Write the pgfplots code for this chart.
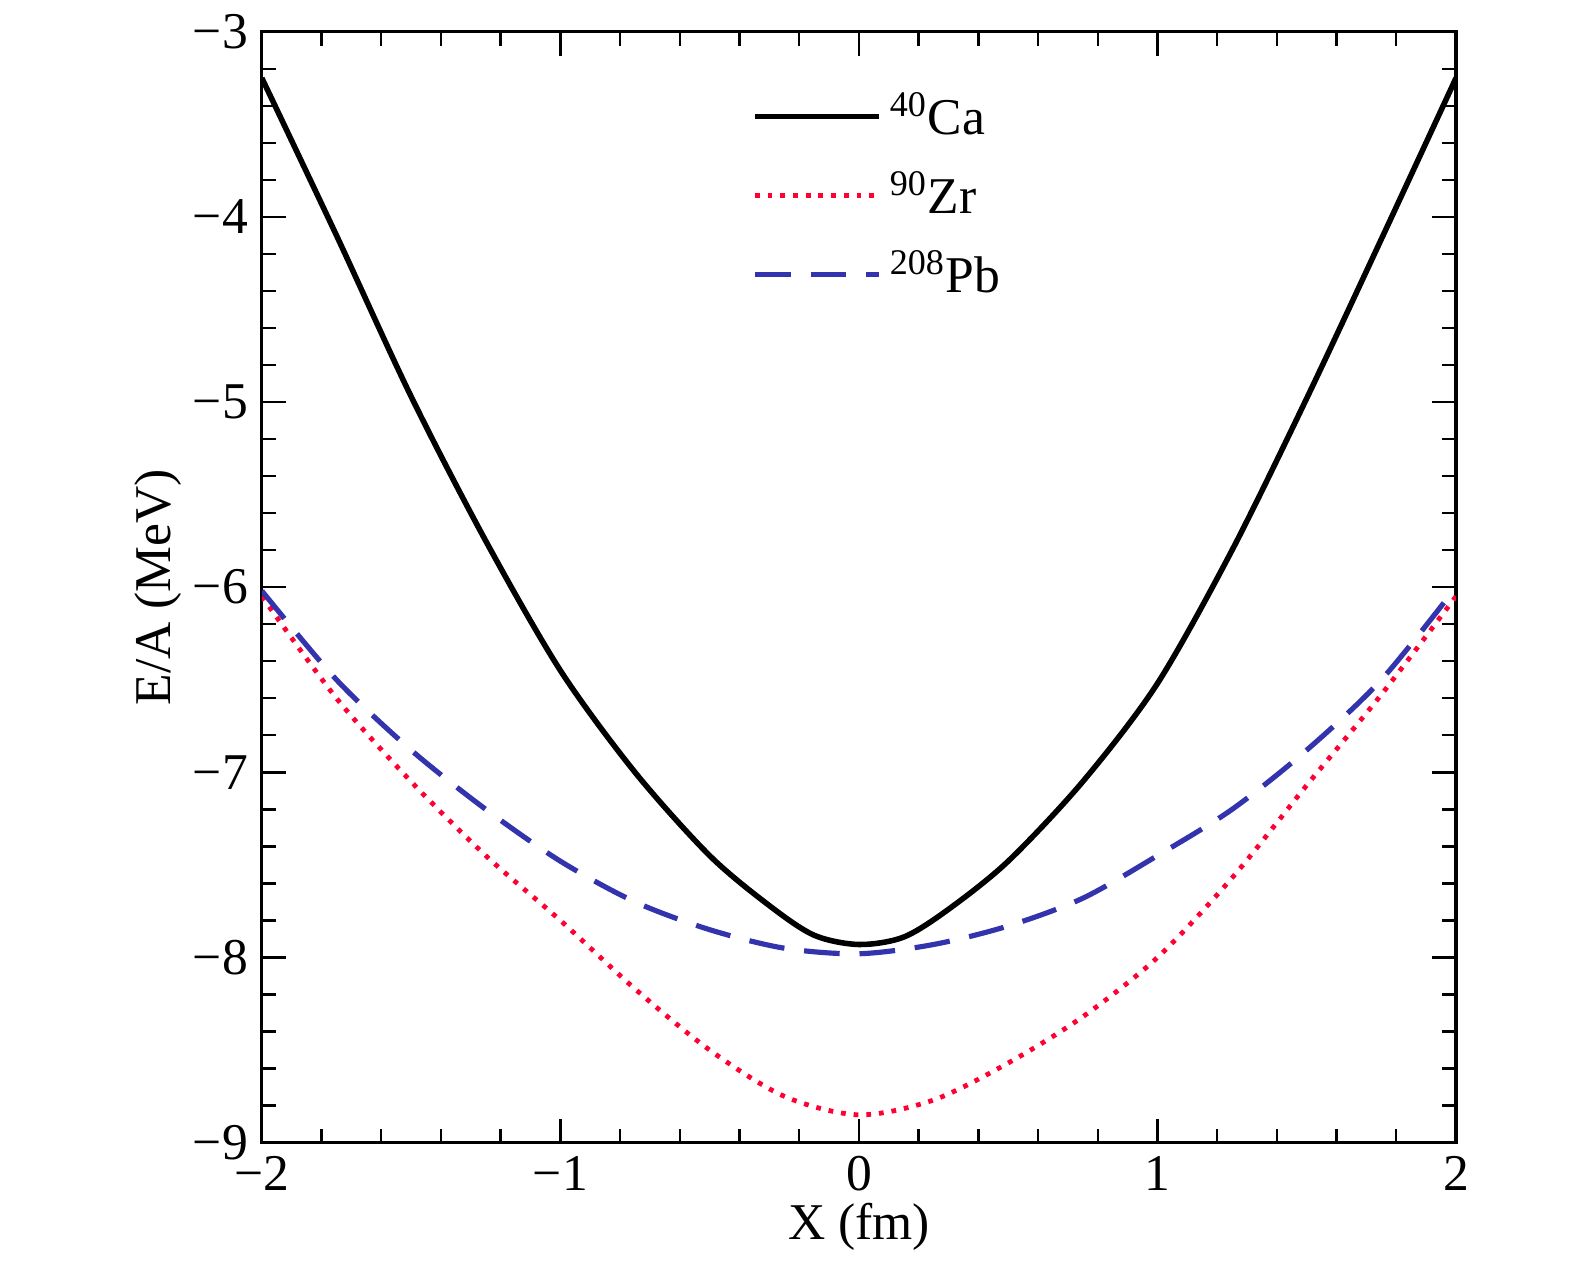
\documentclass[border=0pt]{standalone}
\usepackage{pgfplots}
\pgfplotsset{compat=1.18}
\usepackage{fontspec}
\setmainfont{Liberation Serif}
\begin{document}
\begin{tikzpicture}
\begin{axis}[
  scale only axis, width=301pt, height=280pt,
  xmin=-2, xmax=2, ymin=-9, ymax=-3,
  xtick={-2,-1,0,1,2}, ytick={-9,-8,-7,-6,-5,-4,-3},
  xticklabels={−2,−1,0,1,2}, yticklabels={−9,−8,−7,−6,−5,−4,−3},
  minor x tick num=4, minor y tick num=4,
  tick align=inside, xtick pos=both, ytick pos=both,
  major tick length=6pt, minor tick length=3.5pt,
  tick style={black, line width=0.6pt},
  axis line style={line width=0.8pt},
  ticklabel style={font=\fontsize{13}{15}\selectfont},
  label style={font=\fontsize{13}{15}\selectfont},
  xlabel={X (fm)}, ylabel={E/A (MeV)},
  xlabel style={yshift=4pt}, ylabel style={yshift=-4pt},
  legend style={at={(0.4,0.96)}, anchor=north west, draw=none, fill=none,
    font=\fontsize{13}{15}\selectfont, row sep=4pt},
  legend cell align=left,
  legend image code/.code={\draw[#1] (0cm,0cm) -- (1.1cm,0cm);},
]
\addplot[black, line width=1.4pt, smooth, tension=0.5] coordinates {
(-2,-3.25) (-1.75,-4.1) (-1.5,-4.97) (-1.25,-5.75) (-1,-6.45) (-0.75,-7.0) (-0.5,-7.45) (-0.3,-7.72) (-0.15,-7.88) (0,-7.93)
(0.15,-7.89) (0.3,-7.74) (0.5,-7.48) (0.75,-7.05) (1,-6.52) (1.25,-5.8) (1.5,-4.98) (1.75,-4.12) (2,-3.25)};
\addlegendentry{\textsuperscript{40}Ca}
\addplot[red!80!magenta, line width=1.2pt, dotted, smooth, tension=0.5] coordinates {
(-2,-6.05) (-1.75,-6.6) (-1.5,-7.05) (-1.25,-7.45) (-1,-7.8) (-0.75,-8.17) (-0.5,-8.5) (-0.25,-8.75) (0,-8.85)
(0.25,-8.77) (0.5,-8.57) (0.75,-8.32) (1,-8.0) (1.25,-7.57) (1.5,-7.07) (1.75,-6.58) (2,-6.05)};
\addlegendentry{\textsuperscript{90}Zr}
\addplot[blue!60!black!80, line width=1.3pt, dash pattern=on 9pt off 5pt, smooth, tension=0.5] coordinates {
(-2,-6.02) (-1.75,-6.5) (-1.5,-6.88) (-1.25,-7.2) (-1,-7.48) (-0.75,-7.7) (-0.5,-7.85) (-0.25,-7.95) (0,-7.98)
(0.25,-7.93) (0.5,-7.83) (0.75,-7.68) (1,-7.45) (1.25,-7.2) (1.5,-6.88) (1.75,-6.5) (2,-6.0)};
\addlegendentry{\textsuperscript{208}Pb}
\end{axis}
\path[use as bounding box] (current axis.south west) ++(-66pt,-36pt) rectangle ([shift={(30pt,8pt)}]current axis.north east);
\end{tikzpicture}
\end{document}
